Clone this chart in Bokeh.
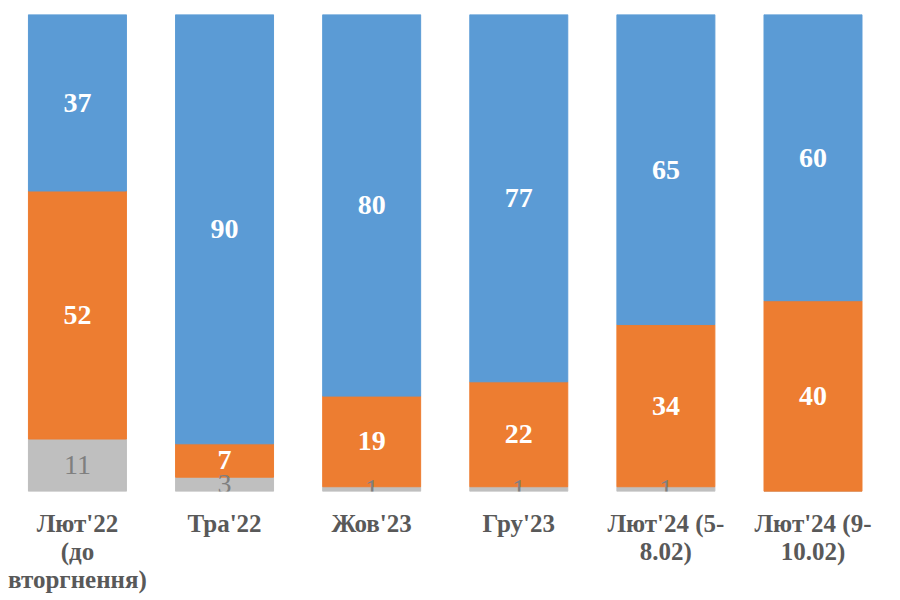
from bokeh.plotting import figure
from bokeh.models import ColumnDataSource, Range1d, FixedTicker
from bokeh.core.properties import value
from bokeh.embed import file_html
from bokeh.resources import INLINE

categories = ["Лют'22\n(до\nвторгнення)", "Тра'22", "Жов'23", "Гру'23", "Лют'24 (5-\n8.02)", "Лют'24 (9-\n10.02)"]
grey_vals = [11, 3, 1, 1, 1, 0]
orange_vals = [52, 7, 19, 22, 34, 40]
blue_vals = [37, 90, 80, 77, 65, 60]

BLUE = "#5B9BD5"
ORANGE = "#ED7D31"
GREY = "#BFBFBF"

xs = list(range(len(categories)))
g_top = grey_vals
o_bot = grey_vals
o_top = [g + o for g, o in zip(grey_vals, orange_vals)]
b_bot = o_top
b_top = [t + b for t, b in zip(o_top, blue_vals)]

src = ColumnDataSource(dict(
    x=xs, g0=[0] * len(xs), g1=g_top, o0=o_bot, o1=o_top, b0=b_bot, b1=b_top,
    om=[a + o / 2 for a, o in zip(o_bot, orange_vals)],
    bm=[a + b / 2 for a, b in zip(b_bot, blue_vals)],
    ol=[str(v) for v in orange_vals],
    bl=[str(v) for v in blue_vals],
))

p = figure(frame_width=884, frame_height=477, output_backend="svg", toolbar_location=None,
           x_range=Range1d(-0.523, 5.486), y_range=Range1d(0, 100),
           min_border_left=0, min_border_right=0, min_border_top=14, min_border_bottom=0)

W = 0.666
p.vbar(x="x", bottom="g0", top="g1", width=W, color=GREY, source=src)
p.vbar(x="x", bottom="o0", top="o1", width=W, color=ORANGE, source=src)
p.vbar(x="x", bottom="b0", top="b1", width=W, color=BLUE, source=src)

font = value("Liberation Serif")
p.text(x="x", y="bm", text="bl", source=src, text_font=font, text_font_size="28px",
       text_font_style="bold", text_color="white", text_align="center", text_baseline="middle")
p.text(x="x", y="om", text="ol", source=src, text_font=font, text_font_size="28px",
       text_font_style="bold", text_color="white", text_align="center", text_baseline="middle")

grey_src = ColumnDataSource(dict(
    x=[x for x, g in zip(xs, grey_vals) if g > 0],
    y=[g / 2 for g in grey_vals if g > 0],
    t=[str(g) for g in grey_vals if g > 0],
))
p.text(x="x", y="y", text="t", source=grey_src, text_font=font, text_font_size="28px",
       text_color="#7F7F7F", text_align="center", text_baseline="middle")

p.xaxis.ticker = FixedTicker(ticks=xs)
p.xaxis.major_label_overrides = {i: c for i, c in enumerate(categories)}
p.xaxis.major_label_text_font = "Liberation Serif"
p.xaxis.major_label_text_font_size = "25px"
p.xaxis.major_label_text_font_style = "bold"
p.xaxis.major_label_text_color = "#595959"
p.xaxis.major_label_text_line_height = 1.05
p.xaxis.major_label_standoff = 12
p.xaxis.axis_line_color = None
p.xaxis.major_tick_line_color = None
p.xaxis.minor_tick_line_color = None
p.yaxis.visible = False
p.xgrid.visible = False
p.ygrid.visible = False
p.outline_line_color = None

open("out.html", "w").write(file_html(p, INLINE))
